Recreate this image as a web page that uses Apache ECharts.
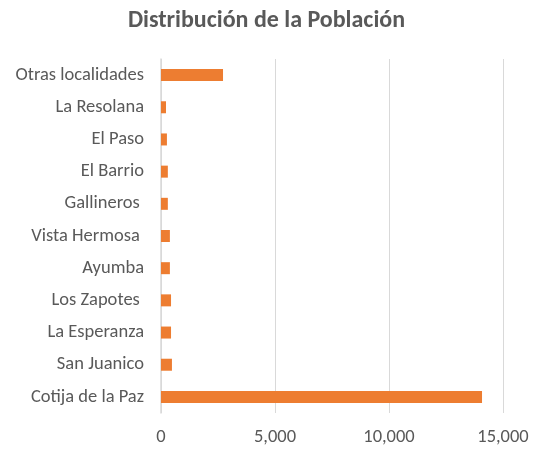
<!DOCTYPE html>
<html>
<head>
<meta charset="utf-8">
<script src="https://cdn.jsdelivr.net/npm/echarts@6/dist/echarts.min.js"></script>
<style>
  html, body { margin: 0; padding: 0; background: #fff; }
  #chart { width: 533px; height: 449px; }
</style>
</head>
<body>
<div id="chart"></div>
<script>
// categories bottom -> top (as the value axis reads them)
const localidades = [
  'Cotija de la Paz', 'San Juanico', 'La Esperanza', 'Los Zapotes ', 'Ayumba',
  'Vista Hermosa ', 'Gallineros ', 'El Barrio', 'El Paso', 'La Resolana', 'Otras localidades'
];
const poblacion = [14080, 480, 440, 440, 390, 390, 300, 300, 260, 220, 2720];
const xTicks = [0, 5000, 10000, 15000];

const chart = echarts.init(document.getElementById('chart'));
const font = 'Calibri, Carlito, "Open Sans", sans-serif';

chart.setOption({
  animation: false,
  title: {
    text: 'Distribución de la Población',
    left: 'center',
    top: 4,
    textStyle: { fontFamily: font, fontSize: 24, fontWeight: 'bold', color: '#595959' }
  },
  grid: { left: 161, right: 30, top: 59, bottom: 36, containLabel: false },
  xAxis: {
    type: 'value',
    min: xTicks[0],
    max: xTicks[xTicks.length - 1],
    interval: 5000,
    axisLine: { show: false },
    axisTick: { show: false },
    splitLine: { lineStyle: { color: '#d9d9d9', width: 1 } },
    axisLabel: {
      fontFamily: font, fontSize: 18.5, color: '#595959', margin: 15,
      formatter: v => v.toLocaleString('en-US')
    }
  },
  yAxis: {
    type: 'category',
    data: localidades,
    axisLine: { lineStyle: { color: '#d9d9d9', width: 1.5 } },
    axisTick: { show: false },
    axisLabel: { fontFamily: font, fontSize: 18.5, color: '#595959', margin: 17 }
  },
  series: [{
    type: 'bar',
    data: poblacion,
    barWidth: 12,
    itemStyle: { color: '#ed7d31' }
  }]
});
</script>
</body>
</html>
